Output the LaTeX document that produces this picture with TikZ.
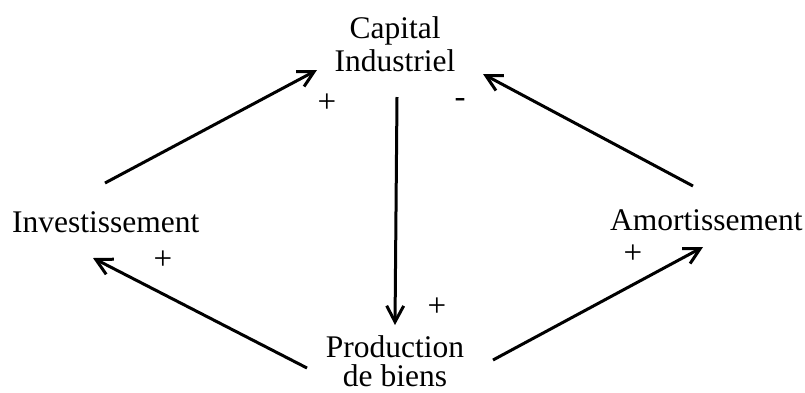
\documentclass[tikz,border=0pt]{standalone}
\usepackage{fontspec}
\setmainfont{Liberation Serif}
\usetikzlibrary{arrows.meta}
\begin{document}
\begin{tikzpicture}[x=1pt,y=-1pt,
  lbl/.style={inner sep=0pt,font=\fontsize{31.5}{33}\selectfont},
  sgn/.style={inner sep=0pt,font=\fontsize{33}{35}\selectfont},
  arr/.style={line width=3pt,-{Straight Barb[length=16pt,width=17pt,line width=3pt]}}]
\useasboundingbox (0,0) rectangle (805,392);
\node[lbl,align=center,anchor=base] (cap) at (395,71) {Capital\\Industriel};
\node[lbl,anchor=base west] (inv) at (12,232) {Investissement};
\node[lbl,anchor=base west] (amo) at (610,230) {Amortissement};
\node[lbl,align=center,anchor=base,font=\fontsize{31.5}{29}\selectfont] (prod) at (395,386) {Production\\de biens};
\draw[arr] ([shift={(93,-49)}]inv.base west) -- ([shift={(-78,-1)}]cap.base);
\draw[arr] ([shift={(83,-44)}]amo.base west) -- ([shift={(88,3)}]cap.base);
\draw[arr] ([shift={(2,26)}]cap.base) -- ([shift={(0,-61)}]prod.base);
\draw[arr] ([shift={(-88,-18)}]prod.base) -- ([shift={(81,26)}]inv.base west);
\draw[arr] ([shift={(98,-26)}]prod.base) -- ([shift={(93,17)}]amo.base west);
\node[sgn] (p1) at (327,103) {+};
\node[sgn] (m1) at (460,103) {-};
\node[sgn] (p2) at (163,260) {+};
\node[sgn] (p3) at (633,254) {+};
\node[sgn] (p4) at (437,307) {+};
\end{tikzpicture}
\end{document}
